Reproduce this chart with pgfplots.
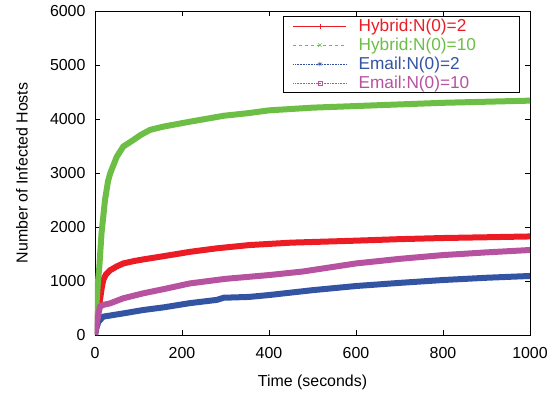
\documentclass[border=0pt]{standalone}
\usepackage{fontspec}
\setmainfont{Liberation Sans}
\usepackage{pgfplots}
\pgfplotsset{compat=1.18}
\definecolor{hred}{RGB}{236,28,36}
\definecolor{hgreen}{RGB}{108,190,69}
\definecolor{eblue}{RGB}{51,83,163}
\definecolor{emag}{RGB}{183,82,160}
\newcommand{\legtext}[2]{\makebox[173bp][l]{\hspace*{12bp}\textcolor{#1}{#2}}}
\begin{document}
\begin{tikzpicture}
\begin{axis}[
  scale only axis, width=435bp, height=324bp,
  xmin=0, xmax=1000, ymin=0, ymax=6000,
  xtick={0,200,...,1000}, ytick={0,1000,...,6000},
  tick align=inside, tick pos=both,
  major tick length=5bp,
  every tick/.style={black, line width=0.8pt},
  axis line style={line width=0.9pt},
  /pgf/number format/assume math mode=true,
  /pgf/number format/set thousands separator={},
  tick label style={font=\fontsize{16}{18}\selectfont},
  xticklabel style={yshift=-9bp},
  yticklabel style={xshift=-6bp},
  label style={font=\fontsize{16}{18}\selectfont},
  xlabel={Time (seconds)}, ylabel={Number of Infected Hosts},
  xlabel style={at={(axis description cs:0.5,-0.145)}, anchor=center},
  ylabel style={at={(axis description cs:-0.168,0.5)}, anchor=center},
  legend style={at={(rel axis cs:0.432,0.985)}, anchor=north west,
    font=\fontsize{17.3}{19}\selectfont, draw=black, line width=0.8pt,
    inner xsep=0bp, inner ysep=0.5bp, row sep=0bp, column sep=0bp,
    nodes={inner sep=0pt}, cells={anchor=west}},
  legend cell align=left,
  legend image code/.code={\path[draw=none,fill=none] (0bp,-9.45bp) rectangle (63bp,9.45bp);
    \draw[#1,mark=none] (10bp,0bp) -- (63bp,0bp);
    \draw[#1,only marks] plot coordinates {(36.5bp,0bp)};},
]
\addplot[color=hred, line width=6bp, forget plot] coordinates {
(0,2) (4,280) (8,500) (11.5,650) (15,850) (19,1020) (25,1120) (35,1200) (50,1270) (65,1325) (90,1370) (111,1400) (158,1460) (218,1540) (280,1605) (354,1665) (450,1710) (600,1747) (700,1775) (800,1796) (900,1810) (1000,1825)};
\addplot[color=hgreen, line width=6bp, forget plot] coordinates {
(0,10) (2,300) (4,650) (7,1000) (10,1265) (15,1885) (23,2500) (30,2850) (35,2995) (50,3300) (65,3490) (88,3610) (104,3700) (127,3800) (158,3860) (218,3950) (296,4060) (354,4110) (400,4160) (500,4210) (600,4240) (700,4270) (800,4300) (900,4320) (1000,4340)};
\addplot[color=eblue, line width=6bp, forget plot] coordinates {
(0,2) (4,150) (8,247) (19,340) (65,400) (111,463) (158,512) (218,590) (280,650) (296,690) (354,705) (400,740) (500,830) (600,907) (700,965) (800,1018) (900,1060) (1000,1093)};
\addplot[color=emag, line width=6bp, forget plot] coordinates {
(0,10) (4,200) (8,400) (11.5,525) (20,560) (35,587) (65,680) (111,772) (158,850) (218,955) (300,1040) (400,1110) (477,1175) (600,1325) (700,1410) (800,1480) (900,1530) (1000,1574)};
\addlegendimage{color=hred, solid, line width=0.6pt, mark=+, mark size=2.5pt, mark options={solid, color=hred}}
\addlegendentry{\legtext{hred}{Hybrid:N(0)=2}}
\addlegendimage{color=hgreen, dashed, line width=0.6pt, mark=x, mark size=2.5pt, mark options={solid}}
\addlegendentry{\legtext{hgreen}{Hybrid:N(0)=10}}
\addlegendimage{color=eblue, densely dotted, line width=0.6pt, mark=asterisk, mark size=2.5pt, mark options={solid}}
\addlegendentry{\legtext{eblue}{Email:N(0)=2}}
\addlegendimage{color=emag, densely dotted, line width=0.6pt, mark=square, mark size=2pt, mark options={solid}}
\addlegendentry{\legtext{emag}{Email:N(0)=10}}
\end{axis}
\path ([xshift=-95bp,yshift=-58bp]current axis.south west) rectangle ([xshift=29bp,yshift=11bp]current axis.north east);
\end{tikzpicture}
\end{document}
